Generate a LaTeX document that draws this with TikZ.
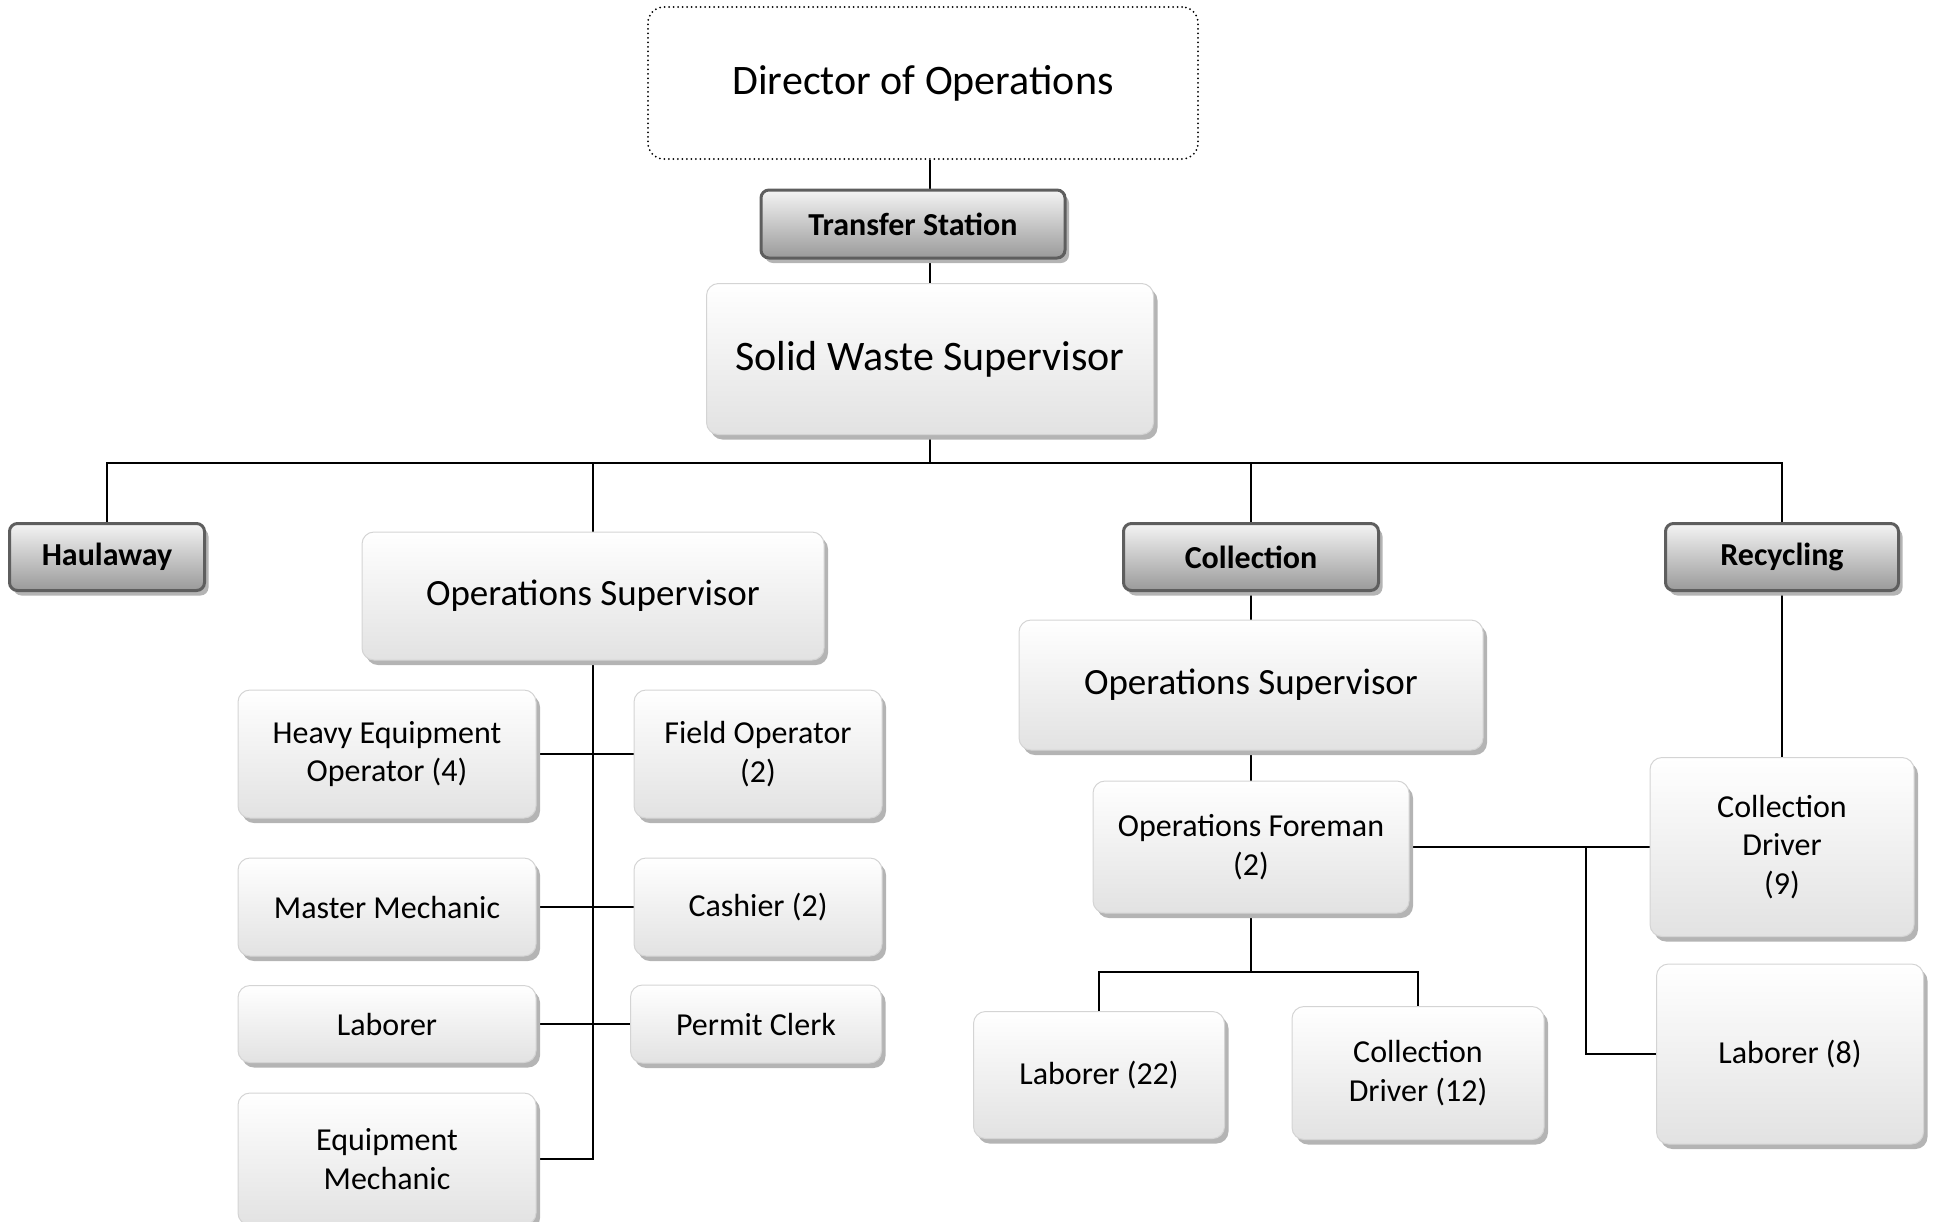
\documentclass[tikz,border=0pt]{standalone}
\usepackage{fontspec}
\setmainfont{Carlito}
\usetikzlibrary{shadows,backgrounds}
\definecolor{shgray}{HTML}{B4B4B4}
\definecolor{wborder}{HTML}{D4D4D4}
\definecolor{wbot}{HTML}{E2E2E2}
\definecolor{dtop}{HTML}{F4F4F4}
\definecolor{dbot}{HTML}{9A9A9A}
\definecolor{dborder}{HTML}{5E5E5E}
\tikzset{
  shd/.style={general shadow={fill=shgray, shadow xshift=4pt, shadow yshift=-5pt}},
  wbox/.style={draw=wborder, line width=1pt, rounded corners=12pt, top color=white, bottom color=wbot, shd,
    align=center, inner sep=0pt, font=\fontsize{32}{38.5}\selectfont},
  wbig/.style={wbox, font=\fontsize{42}{50}\selectfont},
  wmid/.style={wbox, font=\fontsize{37}{44}\selectfont},
  dbox/.style={draw=dborder, line width=3pt, rounded corners=8pt, top color=dtop, bottom color=dbot, shd,
    align=center, inner sep=0pt, font=\bfseries\fontsize{32}{38}\selectfont},
  dirbox/.style={draw=black, line width=2pt, dash pattern=on 0pt off 4.5pt, line cap=round, rounded corners=16pt,
    fill=white, align=center, inner sep=0pt, font=\fontsize{42}{50}\selectfont},
  conn/.style={line width=2pt, black},
  sz/.style 2 args={minimum width=#1pt, minimum height=#2pt},
}
\begin{document}
\begin{tikzpicture}[x=1pt, y=-1pt]
\useasboundingbox (0,0) rectangle (1935,1221);
% top
\node[dirbox, sz={550}{152}] (dir) at (923,83) {Director of Operations};
\node[dbox, sz={304}{68}] (ts) at (913,224) {Transfer Station};
\node[wbig, sz={447}{151}] (sws) at (930,359) {Solid Waste Supervisor};
\coordinate (bus) at (930,463);
% second row
\node[dbox, sz={195}{67}] (haul) at (107,557) {Haulaway};
\node[wmid, sz={462}{128}] (opsL) at (593,596) {Operations Supervisor};
\node[dbox, sz={255}{67}] (coll) at (1251,557) {Collection};
\node[dbox, sz={233}{67}] (recy) at (1782,557) {Recycling};
% left branch
\node[wbox, sz={298}{128}] (heo) at (387,754) {Heavy Equipment\\Operator (4)};
\node[wbox, sz={248}{128}] (fo) at (758,754) {Field Operator\\(2)};
\node[wbox, sz={298}{98}] (mm) at (387,907) {Master Mechanic};
\node[wbox, sz={248}{98}] (cash) at (758,907) {Cashier (2)};
\node[wbox, sz={298}{77}] (lab) at (387,1024) {Laborer};
\node[wbox, sz={251}{78}] (pc) at (756,1024) {Permit Clerk};
\node[wbox, sz={298}{132}] (em) at (387,1159) {Equipment\\Mechanic};
% collection branch
\node[wmid, sz={464}{130}] (opsR) at (1251,685) {Operations Supervisor};
\node[wbox, sz={316}{132}] (fore) at (1251,847) {Operations Foreman\\(2)};
\node[wbox, sz={251}{127}] (lab22) at (1099,1075) {Laborer (22)};
\node[wbox, sz={252}{133}] (cd12) at (1418,1073) {Collection\\Driver (12)};
\node[wbox, sz={264}{179}] (cd9) at (1782,847) {Collection\\Driver\\(9)};
\node[wbox, sz={267}{180}] (lab8) at (1790,1054) {Laborer (8)};
\coordinate (fj) at (1251,972);
\coordinate (br) at (1586,847);
% connectors
\begin{scope}[on background layer]
\draw[conn] (sws.north) -- (sws.north |- dir.south);
\draw[conn] (sws.south) -- (bus);
\draw[conn] (haul.north) -- (haul.north |- bus) -- (recy.north |- bus) -- (recy.north);
\draw[conn] (opsL.north) -- (opsL.north |- bus);
\draw[conn] (coll.north) -- (coll.north |- bus);
\draw[conn] (opsL.south) -- (opsL.south |- em.east) -- (em.east);
\draw[conn] (heo.east) -- (fo.west);
\draw[conn] (mm.east) -- (cash.west);
\draw[conn] (lab.east) -- (pc.west);
\draw[conn] (coll.south) -- (opsR.north);
\draw[conn] (opsR.south) -- (fore.north);
\draw[conn] (fore.south) -- (fj);
\draw[conn] (lab22.north) -- (lab22.north |- fj) -- (cd12.north |- fj) -- (cd12.north);
\draw[conn] (fore.east) -- (cd9.west);
\draw[conn] (br) |- (lab8.west);
\draw[conn] (recy.south) -- (cd9.north);
\end{scope}
\end{tikzpicture}
\end{document}
